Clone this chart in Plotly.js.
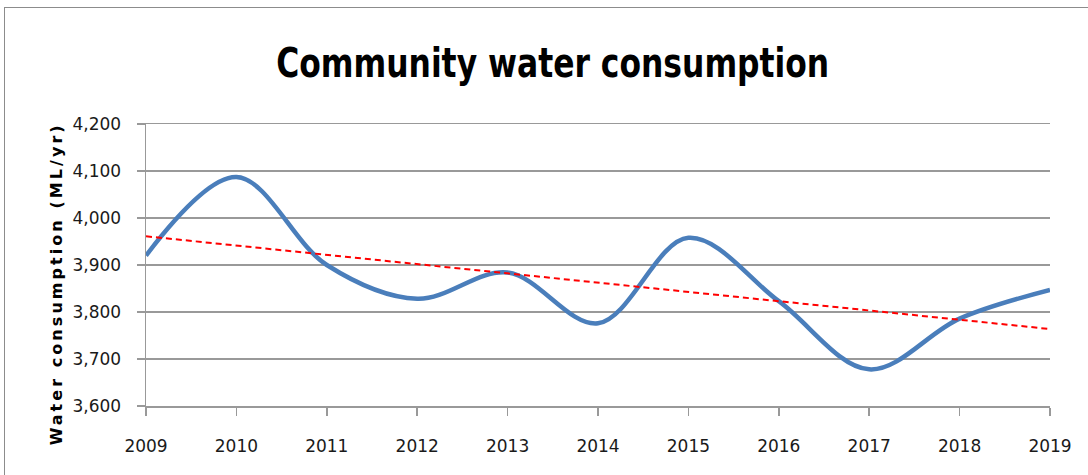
<!DOCTYPE html>
<html>
<head>
<meta charset="utf-8">
<script src="https://cdn.plot.ly/plotly-3.0.1.min.js"></script>
<style>
  html, body { margin: 0; padding: 0; background: #fff; }
  #wrap { position: relative; width: 1088px; height: 475px; overflow: hidden; }
  #chart { width: 1088px; height: 475px; }
  #frame { position: absolute; left: 4px; top: 7px; width: 1100px; height: 480px;
           border-left: 1.5px solid #8c8c8c; border-top: 1.5px solid #8c8c8c; pointer-events: none; }
</style>
</head>
<body>
<div id="wrap">
  <div id="chart"></div>
  <div id="frame"></div>
</div>
<script>
const years = [2009, 2010, 2011, 2012, 2013, 2014, 2015, 2016, 2017, 2018, 2019];
const consumption = [3920, 4087, 3900, 3828, 3884, 3776, 3958, 3823, 3678, 3786, 3847];
const yTickVals = [3600, 3700, 3800, 3900, 4000, 4100, 4200];
const chartTitle = "Community water consumption";
const yTitle = "Water consumption (ML/yr)";

// Linear trend line (least squares) from the data
const n = years.length;
const mx = years.reduce((a, b) => a + b, 0) / n;
const my = consumption.reduce((a, b) => a + b, 0) / n;
let sxy = 0, sxx = 0;
for (let i = 0; i < n; i++) { sxy += (years[i] - mx) * (consumption[i] - my); sxx += (years[i] - mx) ** 2; }
const slope = sxy / sxx;
const trend = years.map(x => my + slope * (x - mx));

const tickFont = { family: "DejaVu Sans, sans-serif", size: 17, color: "#1a1a1a" };
const axisGray = "#999999";

const data = [
  {
    x: years, y: consumption, type: "scatter", mode: "lines",
    line: { color: "#4a7ebb", width: 4.5, shape: "spline", smoothing: 1 },
    hoverinfo: "x+y"
  },
  {
    x: years, y: trend, type: "scatter", mode: "lines",
    line: { color: "#ff0000", width: 2, dash: "6px,4px" },
    hoverinfo: "skip"
  }
];

const layout = {
  width: 1088, height: 475,
  margin: { l: 146, r: 38, t: 124, b: 69 },
  paper_bgcolor: "#ffffff", plot_bgcolor: "#ffffff",
  showlegend: false,
  title: {
    text: chartTitle,
    font: { family: "DejaVu Sans Condensed, DejaVu Sans, sans-serif", size: 40, weight: "bold", color: "#000" },
    x: 0.508, xref: "container", xanchor: "center",
    y: 0.868, yref: "container", yanchor: "middle"
  },
  xaxis: {
    range: [2009, 2019], tickvals: years, tickformat: "d",
    showgrid: false, zeroline: false,
    showline: true, mirror: true, linecolor: axisGray, linewidth: 1.5,
    ticks: "outside", ticklen: 8, tickcolor: axisGray, tickwidth: 1.5,
    ticklabelstandoff: 16,
    tickfont: tickFont, fixedrange: true
  },
  yaxis: {
    range: [3600, 4200], tickvals: yTickVals, tickformat: ",",
    showgrid: true, gridcolor: axisGray, gridwidth: 1.5, zeroline: false,
    showline: true, linecolor: axisGray, linewidth: 1.5,
    ticks: "outside", ticklen: 8, tickcolor: axisGray, tickwidth: 1.5,
    ticklabelstandoff: 12,
    tickfont: tickFont, fixedrange: true
  },
  annotations: [
    {
      text: yTitle,
      xref: "paper", yref: "paper", x: -0.0994, y: 0.427,
      xanchor: "center", yanchor: "middle", textangle: -90, showarrow: false,
      font: { family: "DejaVu Sans, sans-serif", size: 16, weight: "bold", color: "#000" }
    }
  ]
};

Plotly.newPlot("chart", data, layout, { displayModeBar: false, staticPlot: true }).then(() => {
  const t = document.querySelector("#chart .gtitle");
  if (t) { t.setAttribute("textLength", "553"); t.setAttribute("lengthAdjust", "spacingAndGlyphs"); }
  const a = document.querySelector("#chart .annotation-text");
  if (a) { a.setAttribute("textLength", "320"); a.setAttribute("lengthAdjust", "spacing"); }
});
</script>
</body>
</html>
